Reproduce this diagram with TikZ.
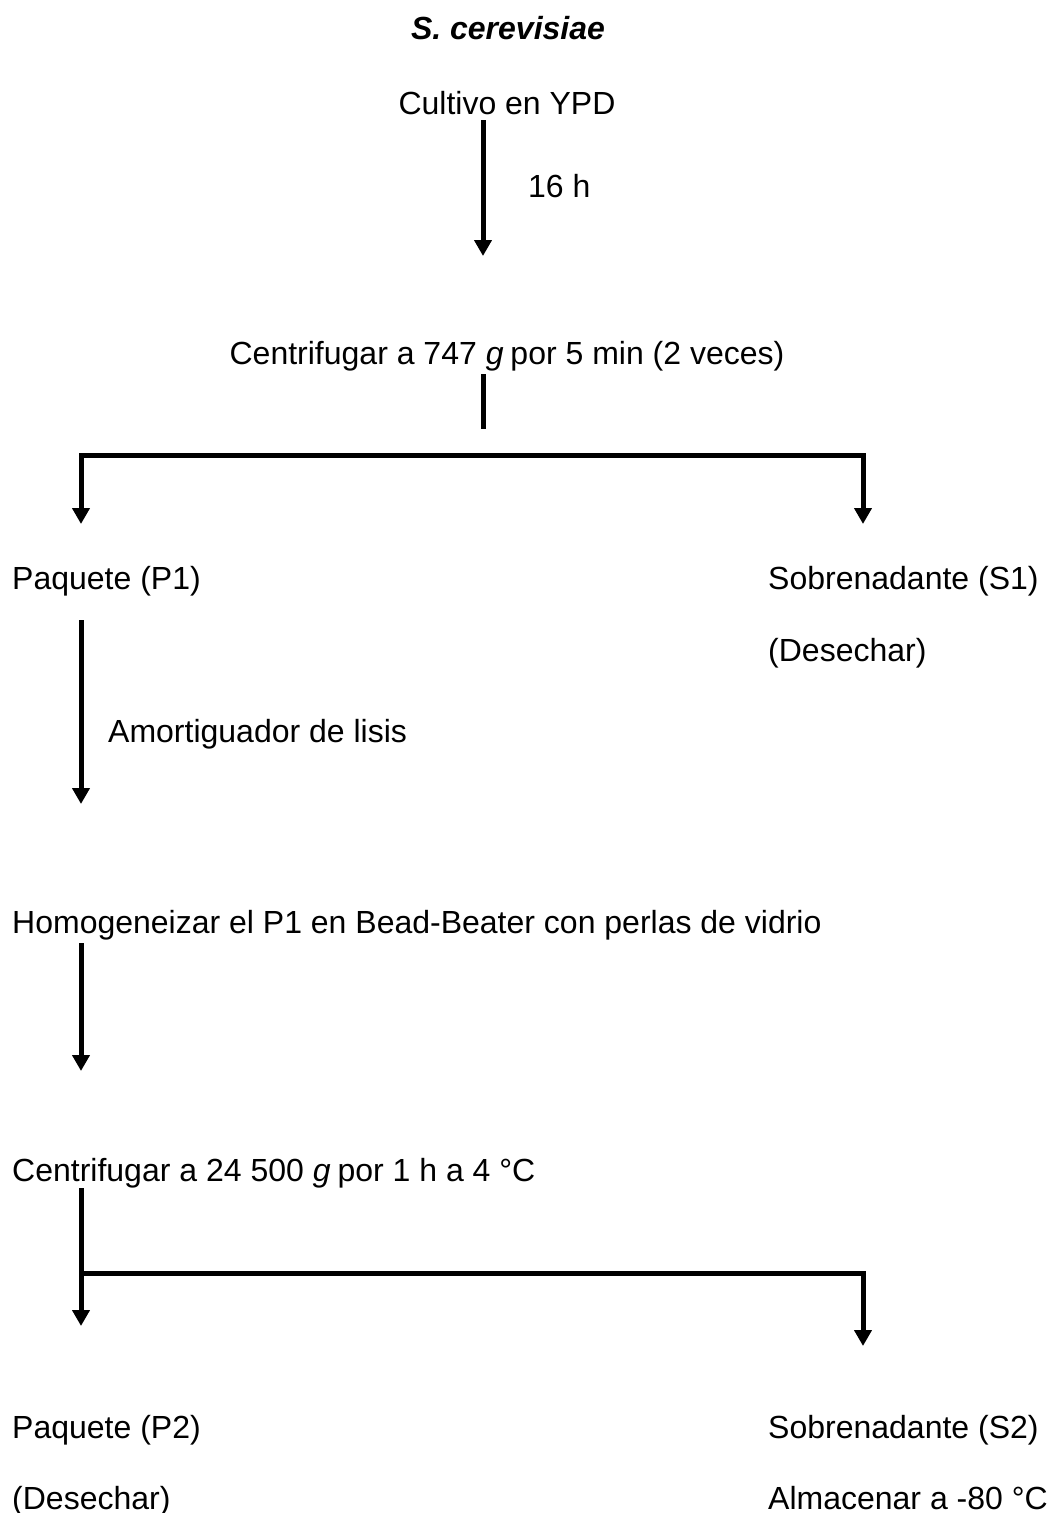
\documentclass[tikz,border=0pt]{standalone}
\usepackage{fontspec}
\setmainfont{Liberation Sans}
\usetikzlibrary{arrows.meta}
\begin{document}
\begin{tikzpicture}[x=1pt,y=-1pt,
  txt/.style={inner sep=0pt,font=\fontsize{32}{38}\selectfont},
  lt/.style={txt,anchor=base west},
  ct/.style={txt,anchor=base},
  conn/.style={line width=5pt},
  arr/.style={conn,-{Triangle[width=17pt,length=16pt]}}]
\useasboundingbox[fill=white] (0,0) rectangle (1052,1513);
\node[ct,font=\fontsize{32}{38}\selectfont\bfseries\itshape] (title) at (508,39) {S. cerevisiae};
\node[ct] (cult) at (507,114) {Cultivo en YPD};
\node[lt] (h16) at (528,197) {16 h};
\node[ct] (cent1) at (507,364) {Centrifugar a 747 \textit{g}\hspace{-2pt} por 5 min (2 veces)};
\node[lt] (p1) at (12,589) {Paquete (P1)};
\node[lt] (s1) at (768,589) {Sobrenadante (S1)};
\node[lt] (des1) at (768,661) {(Desechar)};
\node[lt] (amort) at (108,742) {Amortiguador de lisis};
\node[lt] (homo) at (12,933) {Homogeneizar el P1 en Bead-Beater con perlas de vidrio};
\node[lt] (cent2) at (12,1181) {Centrifugar a 24 500 \textit{g}\hspace{-2pt} por 1 h a 4 °C};
\node[lt] (p2) at (12,1438) {Paquete (P2)};
\node[lt] (s2) at (768,1438) {Sobrenadante (S2)};
\node[lt] (des2) at (12,1509) {(Desechar)};
\node[lt] (alm) at (768,1509) {Almacenar a -80 °C};
% coordinates
\coordinate (a1s) at (483,120);
\coordinate (a1e) at (483,256);
\coordinate (st1) at (483,374);
\coordinate (st2) at (483,429);
\coordinate (br1l) at (81,455);
\coordinate (br1r) at (863,455);
\coordinate (br1le) at (81,524);
\coordinate (br1re) at (863,524);
\coordinate (a2s) at (81,620);
\coordinate (a2e) at (81,804);
\coordinate (a3s) at (81,943);
\coordinate (a3e) at (81,1071);
\coordinate (a4s) at (81,1188);
\coordinate (a4e) at (81,1326);
\coordinate (br2l) at (81,1273);
\coordinate (br2r) at (863,1273);
\coordinate (br2re) at (863,1346);
\draw[arr] (a1s) -- (a1e);
\draw[conn] (st1) -- (st2);
\draw[conn,line cap=rect] (br1l) -- (br1r);
\draw[arr] (br1l) -- (br1le);
\draw[arr] (br1r) -- (br1re);
\draw[arr] (a2s) -- (a2e);
\draw[arr] (a3s) -- (a3e);
\draw[arr] (a4s) -- (a4e);
\draw[conn,line cap=rect] (br2l) -- (br2r);
\draw[arr] (br2r) -- (br2re);
\end{tikzpicture}
\end{document}
